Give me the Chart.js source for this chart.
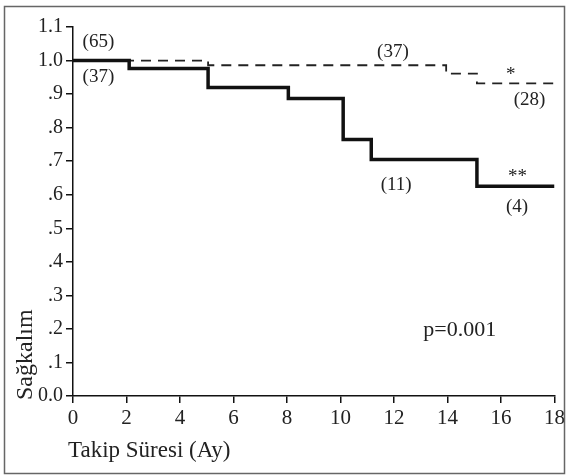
<!DOCTYPE html>
<html>
<head>
<meta charset="utf-8">
<script src="https://cdn.jsdelivr.net/npm/chart.js@4"></script>
<style>
  html, body { margin: 0; padding: 0; background: #fff; }
  #wrap { width: 568px; height: 475px; }
</style>
</head>
<body>
<div id="wrap"><canvas id="chart" width="568" height="475"></canvas></div>
<script>
const xTickLabels = ["0", "2", "4", "6", "8", "10", "12", "14", "16", "18"];
const yTickLabels = ["0.0", ".1", ".2", ".3", ".4", ".5", ".6", ".7", ".8", ".9", "1.0", "1.1"];

// solid curve (group with events), step at each time
const solidTimes = [0, 2.1, 5.05, 8.05, 10.1, 11.15, 15.1, 18];
const solidSurv = [1.0, 0.976, 0.92, 0.887, 0.765, 0.705, 0.625, 0.625];

// dashed curve
const dashTimes = [0, 5.05, 13.95, 15.1, 18];
const dashSurv = [1.0, 0.986, 0.961, 0.932, 0.932];

// numbers at risk and markers, placed in data units
const notes = [
  { text: "(65)", x: 0.95, y: 1.055 },
  { text: "(37)", x: 0.95, y: 0.951 },
  { text: "(37)", x: 11.96, y: 1.025 },
  { text: "*", x: 16.36, y: 0.957 },
  { text: "(28)", x: 17.07, y: 0.882 },
  { text: "**", x: 16.62, y: 0.653 },
  { text: "(4)", x: 16.6, y: 0.563 },
  { text: "(11)", x: 12.08, y: 0.629 },
  { text: "p=0.001", x: 14.46, y: 0.197, big: true }
];

const SERIF = "'Liberation Serif', 'Times New Roman', serif";

function toPoints(xs, ys) {
  return xs.map((x, i) => ({ x: x, y: ys[i] }));
}

const extras = {
  id: "extras",
  beforeDraw(chart) {
    const ctx = chart.ctx;
    ctx.save();
    ctx.fillStyle = "#fff";
    ctx.fillRect(0, 0, chart.width, chart.height);
    ctx.restore();
  },
  afterDatasetsDraw(chart) {
    const ctx = chart.ctx;
    const xs = chart.scales.x, ys = chart.scales.y;
    ctx.save();
    ctx.fillStyle = "#222";
    ctx.textAlign = "center";
    ctx.textBaseline = "middle";
    notes.forEach(n => {
      ctx.font = (n.big ? "22px " : "19px ") + SERIF;
      ctx.fillText(n.text, xs.getPixelForValue(n.x), ys.getPixelForValue(n.y));
    });

    // axis titles
    const area = chart.chartArea;
    ctx.font = "23px " + SERIF;
    ctx.textAlign = "left";
    ctx.textBaseline = "alphabetic";
    ctx.fillText("Takip Süresi (Ay)", area.left - 5, 457);

    ctx.translate(32, area.bottom + 4);
    ctx.rotate(-Math.PI / 2);
    ctx.font = "24px " + SERIF;
    ctx.fillText("Sağkalım", 0, 0);
    ctx.restore();

    // outer frame
    ctx.save();
    ctx.strokeStyle = "#666";
    ctx.lineWidth = 1.5;
    ctx.strokeRect(4.5, 6.5, 560, 467);
    ctx.restore();
  }
};

new Chart(document.getElementById("chart"), {
  type: "line",
  data: {
    datasets: [
      {
        data: toPoints(solidTimes, solidSurv),
        borderColor: "#111",
        borderWidth: 3.5,
        stepped: "before",
        pointRadius: 0,
        fill: false
      },
      {
        data: toPoints(dashTimes, dashSurv),
        borderColor: "#222",
        borderWidth: 1.8,
        borderDash: [10, 7],
        stepped: "before",
        pointRadius: 0,
        fill: false
      }
    ]
  },
  options: {
    responsive: false,
    animation: false,
    devicePixelRatio: 1,
    layout: { padding: { left: 0, right: 12, top: 27, bottom: 0 } },
    plugins: { legend: { display: false }, tooltip: { enabled: false } },
    scales: {
      x: {
        type: "linear",
        min: 0,
        max: 18,
        afterFit(scale) { scale.height = 79; },
        ticks: {
          stepSize: 2,
          padding: 3,
          color: "#222",
          font: { family: SERIF, size: 21 },
          callback: (v, i) => xTickLabels[i]
        },
        grid: { drawOnChartArea: false, drawTicks: true, tickLength: 7, color: "#111", lineWidth: 1.5 },
        border: { display: true, color: "#111", width: 1.5 }
      },
      y: {
        type: "linear",
        min: 0,
        max: 1.1,
        afterFit(scale) { scale.width = 73; },
        ticks: {
          stepSize: 0.1,
          padding: 3,
          color: "#222",
          font: { family: SERIF, size: 20 },
          callback: (v, i) => yTickLabels[i]
        },
        grid: { drawOnChartArea: false, drawTicks: true, tickLength: 7, color: "#111", lineWidth: 1.5 },
        border: { display: true, color: "#111", width: 1.5 }
      }
    }
  },
  plugins: [extras]
});
</script>
</body>
</html>
